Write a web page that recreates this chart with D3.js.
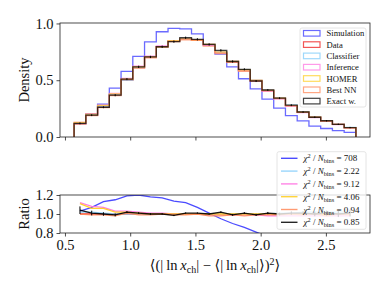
<!DOCTYPE html>
<html>
<head>
<meta charset="utf-8">
<script src="https://cdn.jsdelivr.net/npm/d3@7"></script>
<style>
	body { margin: 0; background: #fff; }
	text { font-family: "Liberation Serif", "DejaVu Serif", serif; fill: #111; }
</style>
</head>
<body>
<svg id="chart" width="389" height="292"></svg>
<script>
// Bin edges of the histograms
var binEdges = [0.57, 0.66, 0.75, 0.84, 0.93, 1.02, 1.11, 1.20, 1.29, 1.38, 1.47, 1.56, 1.65,
	1.74, 1.83, 1.92, 2.01, 2.10, 2.19, 2.28, 2.37, 2.46, 2.55, 2.64, 2.73];

// Densities per bin
var simulation = [0.118, 0.203, 0.29, 0.43, 0.578, 0.71, 0.837, 0.927, 0.956, 0.953, 0.909, 0.81,
	0.73, 0.617, 0.513, 0.424, 0.334, 0.254, 0.188, 0.142, 0.095, 0.075, 0.056, 0.04];
var data = [0.115, 0.19, 0.262, 0.372, 0.5, 0.612, 0.705, 0.795, 0.848, 0.865, 0.852, 0.815,
	0.748, 0.665, 0.59, 0.498, 0.41, 0.342, 0.277, 0.218, 0.174, 0.142, 0.112, 0.082];
var classifier = [0.117, 0.194, 0.264, 0.372, 0.5, 0.612, 0.705, 0.795, 0.848, 0.865, 0.852, 0.815,
	0.748, 0.665, 0.59, 0.498, 0.41, 0.345, 0.28, 0.222, 0.177, 0.145, 0.114, 0.084];
var inference = [0.129, 0.205, 0.28, 0.383, 0.515, 0.624, 0.712, 0.803, 0.848, 0.865, 0.852, 0.807,
	0.741, 0.658, 0.584, 0.493, 0.402, 0.335, 0.271, 0.214, 0.171, 0.139, 0.11, 0.08];
var homer = [0.128, 0.201, 0.278, 0.379, 0.51, 0.618, 0.705, 0.795, 0.848, 0.865, 0.852, 0.815,
	0.748, 0.665, 0.59, 0.498, 0.41, 0.342, 0.277, 0.218, 0.174, 0.142, 0.112, 0.082];
var bestNN = [0.115, 0.188, 0.259, 0.365, 0.505, 0.606, 0.698, 0.795, 0.84, 0.856, 0.852, 0.8,
	0.735, 0.658, 0.578, 0.493, 0.406, 0.339, 0.277, 0.216, 0.174, 0.139, 0.112, 0.081];
var exactW = [0.12, 0.192, 0.262, 0.368, 0.51, 0.618, 0.705, 0.795, 0.84, 0.874, 0.86, 0.815,
	0.763, 0.665, 0.596, 0.493, 0.414, 0.342, 0.28, 0.22, 0.174, 0.143, 0.112, 0.083];
var exactErr = [0.008, 0.008, 0.008, 0.009, 0.009, 0.01, 0.01, 0.01, 0.01, 0.01, 0.01, 0.01,
	0.01, 0.01, 0.009, 0.009, 0.008, 0.008, 0.008, 0.007, 0.007, 0.006, 0.006, 0.006];

// Ratios to data per bin
var ratioSimulation = [1.03, 1.07, 1.13, 1.15, 1.19, 1.2, 1.18, 1.17, 1.135, 1.12, 1.07, 1.01,
	0.95, 0.9, 0.86, 0.81, 0.76, 0.72, 0.68, 0.65, 0.6, 0.55, 0.5, 0.45];
var ratioData = [1, 1, 1, 1, 1, 1, 1, 1, 1, 1, 1, 1, 1, 1, 1, 1, 1, 1, 1, 1, 1, 1, 1, 1];
var ratioClassifier = [1.02, 1.02, 1.01, 1.0, 1.0, 1.0, 1.0, 1.0, 1.0, 1.0, 1.0, 1.0,
	1.0, 1.0, 1.0, 1.0, 1.0, 1.01, 1.01, 1.02, 1.02, 1.02, 1.02, 1.02];
var ratioInference = [1.12, 1.08, 1.07, 1.03, 1.03, 1.02, 1.01, 1.01, 1.0, 1.0, 1.0, 0.99,
	0.99, 0.99, 0.99, 0.99, 0.98, 0.98, 0.98, 0.98, 0.98, 0.98, 0.98, 0.98];
var ratioHomer = [1.11, 1.06, 1.06, 1.02, 1.02, 1.01, 1.0, 1.0, 1.0, 1.0, 1.0, 1.0,
	1.0, 1.0, 1.0, 1.0, 1.0, 1.0, 1.0, 1.0, 1.0, 1.0, 1.0, 1.0];
var ratioBestNN = [1.0, 0.99, 0.99, 0.98, 1.01, 0.99, 0.99, 1.0, 0.99, 0.99, 1.0, 0.98,
	0.98, 0.99, 0.98, 0.99, 0.99, 0.99, 1.0, 0.99, 1.0, 0.98, 1.0, 0.99];
var ratioExact = [1.04, 1.01, 1.0, 0.99, 1.02, 1.01, 1.0, 1.0, 0.985, 1.01, 1.01, 1.0,
	1.02, 0.99, 1.01, 0.99, 1.01, 1.0, 1.01, 1.01, 1.0, 1.01, 1.0, 1.01];

// Labels
var histNames = ['Simulation', 'Data', 'Classifier', 'Inference', 'HOMER', 'Best NN', 'Exact w.'];
var chi2Names = ['Simulation', 'Classifier', 'Inference', 'HOMER', 'Best NN', 'Exact w.'];
var chi2Values = ['708', '2.22', '9.12', '4.06', '0.94', '0.85'];
var xTicks = [0.5, 1.0, 1.5, 2.0, 2.5];
var densityTicks = [0.0, 0.5, 1.0];
var ratioTicks = [0.8, 1.0, 1.2];

// Styles
var colors = {
	'Simulation': '#2b2bff', 'Data': '#ee1c1c', 'Classifier': '#87cefa', 'Inference': '#ff6fe0',
	'HOMER': '#ffcc1a', 'Best NN': '#ff8a5b', 'Exact w.': '#000000'
};
var histOpacity = {
	'Simulation': 0.7, 'Data': 0.75, 'Classifier': 0.8, 'Inference': 0.7,
	'HOMER': 0.7, 'Best NN': 0.75, 'Exact w.': 0.75
};

var histSeries = [simulation, data, classifier, inference, homer, bestNN, exactW];
var ratioSeries = [ratioSimulation, ratioData, ratioClassifier, ratioInference, ratioHomer, ratioBestNN, ratioExact];

var svg = d3.select('#chart');

// Layout
var left = 60, right = 370,
	topY = 23, topBottom = 137,
	botY = 195, botBottom = 233;

var x = d3.scaleLinear().domain([0.462, 2.838]).range([left, right]);
var y = d3.scaleLinear().domain([0, 1.004]).range([topBottom, topY]);
var yr = d3.scaleLinear().domain([0.8, 1.2]).range([botBottom, botY]);

var centers = binEdges.slice(0, -1).map(function(e, i) { return (e + binEdges[i + 1]) / 2; });

svg.append('defs').append('clipPath').attr('id', 'clipTop')
	.append('rect').attr('x', left).attr('y', topY).attr('width', right - left).attr('height', topBottom - topY);
svg.select('defs').append('clipPath').attr('id', 'clipBot')
	.append('rect').attr('x', left).attr('y', botY).attr('width', right - left).attr('height', botBottom - botY);

// ---------- Top panel: step histograms ----------
function stepPoints(vals) {
	var pts = [[binEdges[0], 0]];
	vals.forEach(function(v, i) {
		pts.push([binEdges[i], v]);
		pts.push([binEdges[i + 1], v]);
	});
	pts.push([binEdges[binEdges.length - 1], 0]);
	return pts;
}
var stepLine = d3.line().x(function(d) { return x(d[0]); }).y(function(d) { return y(d[1]); });

var gTop = svg.append('g').attr('clip-path', 'url(#clipTop)');
histSeries.forEach(function(vals, k) {
	var name = histNames[k];
	gTop.append('path')
		.attr('d', stepLine(stepPoints(vals)))
		.attr('fill', 'none')
		.attr('stroke', colors[name])
		.attr('stroke-opacity', histOpacity[name])
		.attr('stroke-width', 1.3);
});

// error bars on exact weights
gTop.selectAll('.err').data(exactW).enter().append('line')
	.attr('x1', function(d, i) { return x(centers[i]); })
	.attr('x2', function(d, i) { return x(centers[i]); })
	.attr('y1', function(d, i) { return y(d - exactErr[i]); })
	.attr('y2', function(d, i) { return y(d + exactErr[i]); })
	.attr('stroke', '#000').attr('stroke-width', 1);

// axes top
var axTop = svg.append('g').attr('transform', 'translate(0,' + topBottom + ')')
	.call(d3.axisBottom(x).tickValues(xTicks).tickSize(3.5).tickFormat(''));
var ayTop = svg.append('g').attr('transform', 'translate(' + left + ',0)')
	.call(d3.axisLeft(y).tickValues(densityTicks).tickSize(3.5).tickPadding(3).tickFormat(d3.format('.1f')));
[axTop, ayTop].forEach(function(a) {
	a.select('.domain').remove();
	a.selectAll('line').attr('stroke', '#222').attr('stroke-width', 0.8);
	a.selectAll('text').style('font-size', '14.5px').attr('fill', '#111');
});
svg.append('rect').attr('x', left).attr('y', topY).attr('width', right - left).attr('height', topBottom - topY)
	.attr('fill', 'none').attr('stroke', '#222').attr('stroke-width', 0.8);

svg.append('text').attr('transform', 'translate(29,' + ((topY + topBottom) / 2) + ') rotate(-90)')
	.attr('text-anchor', 'middle').style('font-size', '14.5px').text('Density');

// legend top
var legTop = svg.append('g');
legTop.append('rect').attr('x', 300).attr('y', 28).attr('width', 66).attr('height', 79).attr('rx', 2)
	.attr('fill', '#fff').attr('fill-opacity', 0.8).attr('stroke', '#ddd').attr('stroke-width', 0.8);
histNames.forEach(function(name, i) {
	var yy = 33.3 + i * 11.3;
	legTop.append('rect').attr('x', 303.5).attr('y', yy - 2.8).attr('width', 16.5).attr('height', 5.6)
		.attr('fill', 'none').attr('stroke', colors[name]).attr('stroke-opacity', histOpacity[name]).attr('stroke-width', 1.2);
	legTop.append('text').attr('x', 326.5).attr('y', yy + 3).style('font-size', '8.6px').text(name);
});

// ---------- Bottom panel: ratios ----------
var ratioLine = d3.line().x(function(d, i) { return x(centers[i]); }).y(function(d) { return yr(d); });
var gBot = svg.append('g').attr('clip-path', 'url(#clipBot)');
ratioSeries.forEach(function(vals, k) {
	var name = histNames[k];
	gBot.append('path')
		.attr('d', ratioLine(vals))
		.attr('fill', 'none')
		.attr('stroke', colors[name])
		.attr('stroke-opacity', name == 'Simulation' ? 0.85 : 0.9)
		.attr('stroke-width', 1.3);
});
gBot.selectAll('.rerr').data(ratioExact).enter().append('line')
	.attr('x1', function(d, i) { return x(centers[i]); })
	.attr('x2', function(d, i) { return x(centers[i]); })
	.attr('y1', function(d, i) { return yr(d - 0.6 * exactErr[i] / Math.max(exactW[i], 0.1)); })
	.attr('y2', function(d, i) { return yr(d + 0.6 * exactErr[i] / Math.max(exactW[i], 0.1)); })
	.attr('stroke', '#000').attr('stroke-width', 1);

var axBot = svg.append('g').attr('transform', 'translate(0,' + botBottom + ')')
	.call(d3.axisBottom(x).tickValues(xTicks).tickSize(3.5).tickPadding(3).tickFormat(d3.format('.1f')));
var ayBot = svg.append('g').attr('transform', 'translate(' + left + ',0)')
	.call(d3.axisLeft(yr).tickValues(ratioTicks).tickSize(3.5).tickPadding(3).tickFormat(d3.format('.1f')));
[axBot, ayBot].forEach(function(a) {
	a.select('.domain').remove();
	a.selectAll('line').attr('stroke', '#222').attr('stroke-width', 0.8);
	a.selectAll('text').style('font-size', '14.5px').attr('fill', '#111');
});
svg.append('rect').attr('x', left).attr('y', botY).attr('width', right - left).attr('height', botBottom - botY)
	.attr('fill', 'none').attr('stroke', '#222').attr('stroke-width', 0.8);

svg.append('text').attr('transform', 'translate(29,' + ((botY + botBottom) / 2) + ') rotate(-90)')
	.attr('text-anchor', 'middle').style('font-size', '14.5px').text('Ratio');

// x label: <(|ln x_ch| - <|ln x_ch|>)^2>
var xl = svg.append('text').attr('x', (left + right) / 2).attr('y', 270)
	.attr('text-anchor', 'middle').style('font-size', '14.5px');
xl.append('tspan').text('\u27E8(|\u2009ln\u2009');
xl.append('tspan').style('font-style', 'italic').text('x');
xl.append('tspan').attr('dy', 3).style('font-size', '10px').text('ch');
xl.append('tspan').attr('dy', -3).text('| \u2212 \u27E8|\u2009ln\u2009');
xl.append('tspan').style('font-style', 'italic').text('x');
xl.append('tspan').attr('dy', 3).style('font-size', '10px').text('ch');
xl.append('tspan').attr('dy', -3).text('|\u27E9)');
xl.append('tspan').attr('dy', -5).style('font-size', '10px').text('2');
xl.append('tspan').attr('dy', 5).text('\u27E9');

// legend bottom
var legBot = svg.append('g');
legBot.append('rect').attr('x', 277).attr('y', 151.7).attr('width', 89).attr('height', 77.6).attr('rx', 2)
	.attr('fill', '#fff').attr('fill-opacity', 0.8).attr('stroke', '#ddd').attr('stroke-width', 0.8);
chi2Names.forEach(function(name, i) {
	var yy = 158.3 + i * 12.8;
	legBot.append('line').attr('x1', 281).attr('x2', 297.5).attr('y1', yy).attr('y2', yy)
		.attr('stroke', colors[name]).attr('stroke-opacity', 0.85).attr('stroke-width', 1.4);
	var t = legBot.append('text').attr('x', 303.5).attr('y', yy + 3).style('font-size', '9px');
	t.append('tspan').style('font-style', 'italic').text('\u03C7');
	t.append('tspan').attr('dy', -3).style('font-size', '6.3px').text('2');
	t.append('tspan').attr('dy', 3).text(' / ');
	t.append('tspan').style('font-style', 'italic').text('N');
	t.append('tspan').attr('dy', 2).style('font-size', '6.3px').text('bins');
	t.append('tspan').attr('dy', -2).text(' = ' + chi2Values[i]);
});
</script>
</body>
</html>
